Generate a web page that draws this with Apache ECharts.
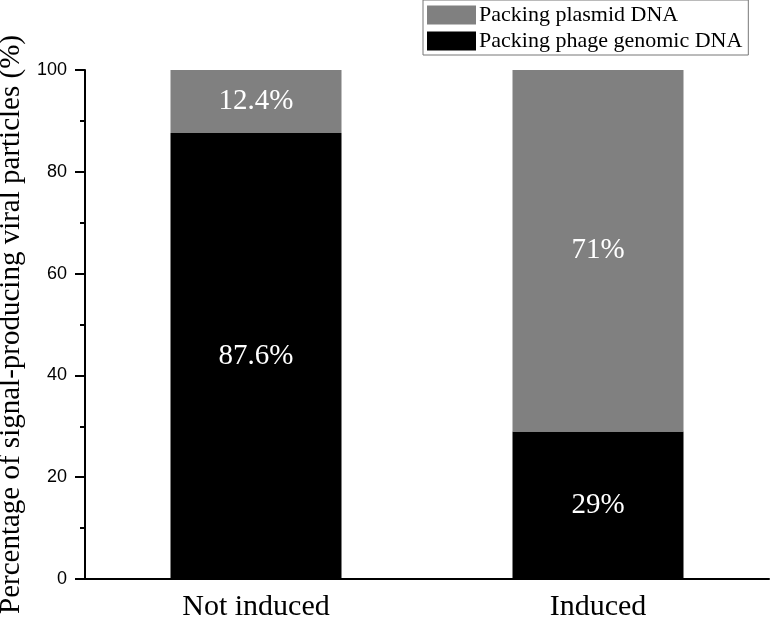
<!DOCTYPE html>
<html>
<head>
<meta charset="utf-8">
<script src="https://cdn.jsdelivr.net/npm/echarts@6/dist/echarts.min.js"></script>
<style>
  html, body { margin: 0; padding: 0; background: #fff; }
  #chart { width: 772px; height: 622px; }
</style>
</head>
<body>
<div id="chart"></div>
<script>
var categories = ['Not induced', 'Induced'];
var genomicValues = [87.6, 29];
var plasmidValues = [12.4, 71];
var genomicLabels = ['87.6%', '29%'];
var plasmidLabels = ['12.4%', '71%'];
var yTicks = [0, 20, 40, 60, 80, 100];

var serif = '"Liberation Serif", "Times New Roman", serif';
var chart = echarts.init(document.getElementById('chart'));

var option = {
    backgroundColor: '#fff',
    animation: false,
    grid: { left: 85, right: 3, top: 70, bottom: 43, outerBoundsMode: 'none' },
    legend: {
        orient: 'vertical',
        left: 423,
        top: 0,
        data: ['Packing plasmid DNA', 'Packing phage genomic DNA'],
        itemWidth: 49,
        itemHeight: 19,
        itemGap: 4,
        padding: [4, 6, 3, 4],
        borderColor: '#777',
        borderWidth: 1,
        icon: 'rect',
        textStyle: { fontFamily: serif, fontSize: 22, color: '#000', padding: [0, 0, 0, -2] }
    },
    xAxis: [{
        type: 'category',
        data: categories,
        axisLine: { lineStyle: { color: '#000', width: 2 } },
        axisTick: { alignWithLabel: true, length: 8, lineStyle: { color: '#000', width: 2 } },
        axisLabel: { fontFamily: serif, fontSize: 30, color: '#000', margin: 13 }
    }, {
        type: 'category',
        data: categories,
        position: 'bottom',
        axisLine: { show: false },
        axisTick: { length: 4, lineStyle: { color: '#000', width: 2 } },
        axisLabel: { show: false }
    }],
    yAxis: {
        type: 'value',
        min: yTicks[0],
        max: yTicks[yTicks.length - 1],
        interval: 20,
        name: 'Percentage of signal-producing viral particles (%)',
        nameLocation: 'middle',
        nameGap: 56,
        nameTextStyle: { fontFamily: serif, fontSize: 29, color: '#000' },
        axisLine: { show: true, lineStyle: { color: '#000', width: 2 } },
        axisTick: { show: true, length: 10, lineStyle: { color: '#000', width: 2 } },
        minorTick: { show: true, splitNumber: 2, length: 5, lineStyle: { color: '#000', width: 2 } },
        splitLine: { show: false },
        axisLabel: { fontFamily: 'Liberation Sans, Arial, sans-serif', fontSize: 18, color: '#000', margin: 18 }
    },
    series: [{
        name: 'Packing phage genomic DNA',
        type: 'bar',
        stack: 'total',
        barWidth: '50%',
        data: genomicValues,
        itemStyle: { color: '#000' },
        label: {
            show: true,
            position: 'inside',
            color: '#fff',
            fontFamily: serif,
            fontSize: 29,
            formatter: function (p) { return genomicLabels[p.dataIndex]; }
        }
    }, {
        name: 'Packing plasmid DNA',
        type: 'bar',
        stack: 'total',
        barWidth: '50%',
        data: plasmidValues,
        itemStyle: { color: '#808080' },
        label: {
            show: true,
            position: 'inside',
            color: '#fff',
            fontFamily: serif,
            fontSize: 29,
            formatter: function (p) { return plasmidLabels[p.dataIndex]; }
        }
    }]
};
chart.setOption(option);
</script>
</body>
</html>
